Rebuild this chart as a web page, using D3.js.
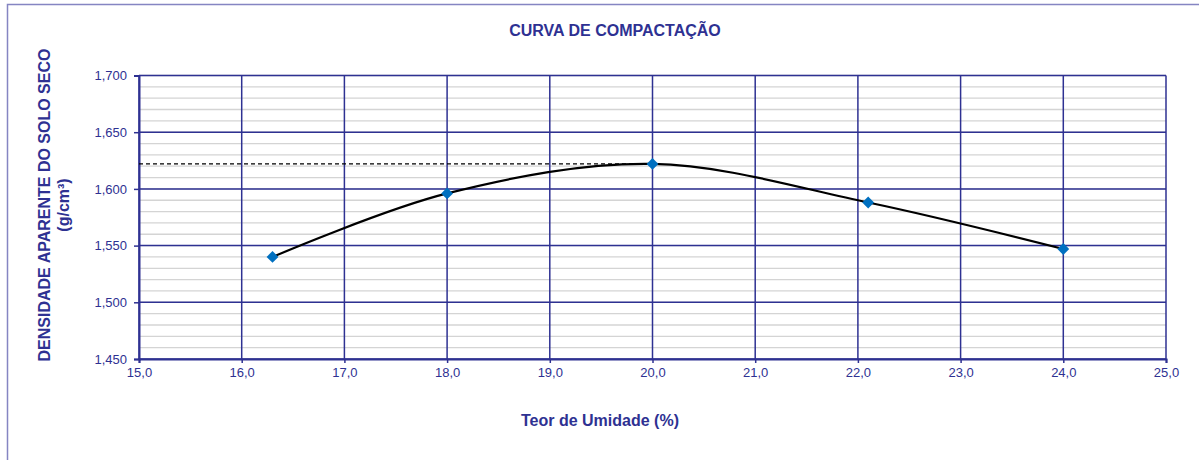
<!DOCTYPE html>
<html>
<head>
<meta charset="utf-8">
<script src="https://cdn.jsdelivr.net/npm/d3@7"></script>
<style>
  body { margin: 0; background: #fff; }
  svg { display: block; font-family: "Liberation Sans", Arial, sans-serif; }
</style>
</head>
<body>
<div id="chart"></div>
<script>
// dados do ensaio
const umidade = [16.3, 18.0, 20.0, 22.1, 24.0];
const densidade = [1.540, 1.596, 1.622, 1.588, 1.547];
const xTicks = [15, 16, 17, 18, 19, 20, 21, 22, 23, 24, 25];
const yTicks = [1.45, 1.5, 1.55, 1.6, 1.65, 1.7];
const yMinor = d3.range(145, 171).map(function (v) { return v / 100; });

const width = 1199, height = 460;
const margin = { left: 139, right: 33, top: 75.5, bottom: 101 };
const azul = "#2e3192";

const svg = d3.select("#chart").append("svg")
  .attr("width", width)
  .attr("height", height);

// moldura externa
svg.append("path")
  .attr("d", "M7.5,470 V4.5 H1210")
  .attr("fill", "none")
  .attr("stroke", "#8585c2")
  .attr("stroke-width", 1.5);

const x = d3.scaleLinear().domain([15, 25]).range([margin.left, width - margin.right]);
const y = d3.scaleLinear().domain([1.45, 1.7]).range([height - margin.bottom, margin.top]);

// grade secundaria
svg.append("g").selectAll("line")
  .data(yMinor)
  .enter().append("line")
  .attr("x1", x(15)).attr("x2", x(25))
  .attr("y1", function (d) { return y(d); })
  .attr("y2", function (d) { return y(d); })
  .attr("stroke", "#d4d4d4")
  .attr("stroke-width", 1.3);

// grade principal
svg.append("g").selectAll("line")
  .data(yTicks)
  .enter().append("line")
  .attr("x1", x(15)).attr("x2", x(25))
  .attr("y1", function (d) { return y(d); })
  .attr("y2", function (d) { return y(d); })
  .attr("stroke", azul)
  .attr("stroke-width", 1.5);

svg.append("g").selectAll("line")
  .data(xTicks)
  .enter().append("line")
  .attr("y1", y(1.45)).attr("y2", y(1.7))
  .attr("x1", function (d) { return x(d); })
  .attr("x2", function (d) { return x(d); })
  .attr("stroke", azul)
  .attr("stroke-width", 1.5);

// eixos
const fmtX = function (d) { return d3.format(".1f")(d).replace(".", ","); };
const fmtY = function (d) { return d3.format(".3f")(d).replace(".", ","); };

const gx = svg.append("g")
  .attr("transform", "translate(0," + y(1.45) + ")")
  .call(d3.axisBottom(x).tickValues(xTicks).tickFormat(fmtX).tickSize(4).tickPadding(5));
const gy = svg.append("g")
  .attr("transform", "translate(" + x(15) + ",0)")
  .call(d3.axisLeft(y).tickValues(yTicks).tickFormat(fmtY).tickSize(5).tickPadding(7));

[gx, gy].forEach(function (g) {
  g.select(".domain").attr("stroke", azul).attr("stroke-width", 2);
  g.selectAll(".tick line").attr("stroke", azul).attr("stroke-width", 1.5);
  g.selectAll(".tick text")
    .attr("fill", azul)
    .style("font-family", "'Liberation Sans', Arial, sans-serif")
    .style("font-size", "13px");
});

// linha tracejada da densidade maxima
const iMax = d3.maxIndex(densidade);
svg.append("line")
  .attr("x1", x(15)).attr("x2", x(umidade[iMax]))
  .attr("y1", y(densidade[iMax])).attr("y2", y(densidade[iMax]))
  .attr("stroke", "#000")
  .attr("stroke-width", 1.3)
  .attr("stroke-dasharray", "4,3");

// curva suavizada
const pontos = umidade.map(function (u, i) { return [u, densidade[i]]; });
const linha = d3.line()
  .x(function (d) { return x(d[0]); })
  .y(function (d) { return y(d[1]); })
  .curve(d3.curveCatmullRom.alpha(0.5));

svg.append("path")
  .datum(pontos)
  .attr("d", linha)
  .attr("fill", "none")
  .attr("stroke", "#000")
  .attr("stroke-width", 2.2);

// marcadores
svg.append("g").selectAll("path")
  .data(pontos)
  .enter().append("path")
  .attr("d", d3.symbol().type(d3.symbolSquare).size(70))
  .attr("transform", function (d) { return "translate(" + x(d[0]) + "," + y(d[1]) + ") rotate(45)"; })
  .attr("fill", "#0070c0");

// titulos
svg.append("text")
  .attr("x", 615).attr("y", 36)
  .attr("text-anchor", "middle")
  .attr("fill", azul)
  .style("font-size", "16px")
  .style("font-weight", "bold")
  .text("CURVA DE COMPACTAÇÃO");

svg.append("text")
  .attr("x", 600).attr("y", 426)
  .attr("text-anchor", "middle")
  .attr("fill", azul)
  .style("font-size", "16px")
  .style("font-weight", "bold")
  .text("Teor de Umidade (%)");

const yl = svg.append("text")
  .attr("transform", "translate(50,205) rotate(-90)")
  .attr("text-anchor", "middle")
  .attr("fill", azul)
  .style("font-size", "16px")
  .style("font-weight", "bold");
yl.append("tspan").attr("x", 0).attr("y", 0).text("DENSIDADE APARENTE DO SOLO SECO");
yl.append("tspan").attr("x", 0).attr("y", 19).text("(g/cm³)");
</script>
</body>
</html>
